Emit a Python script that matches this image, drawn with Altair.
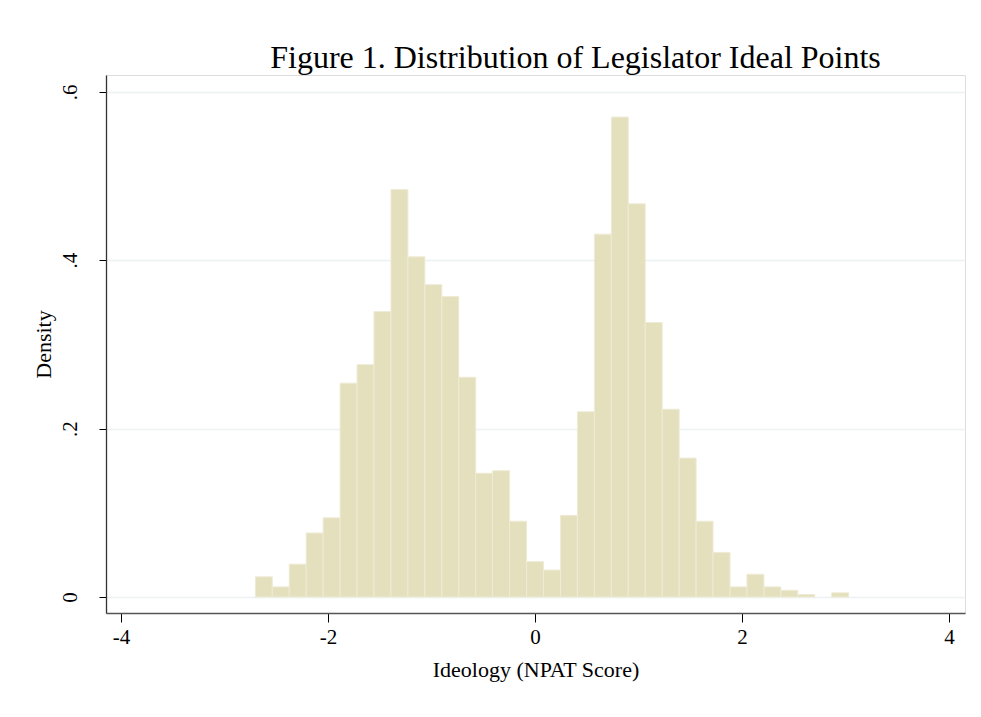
import altair as alt
import pandas as pd

# Histogram of legislator ideal points
bin_start = -2.702
bin_width = 0.1638
density = [0.024, 0.012, 0.039, 0.076, 0.094, 0.254, 0.276, 0.339, 0.484, 0.404,
           0.371, 0.357, 0.261, 0.147, 0.150, 0.090, 0.042, 0.032, 0.097, 0.220,
           0.431, 0.570, 0.467, 0.326, 0.223, 0.165, 0.090, 0.053, 0.012, 0.027,
           0.012, 0.008, 0.003, 0.000, 0.005]
x_ticks = [-4, -2, 0, 2, 4]
y_ticks = [0, 0.2, 0.4, 0.6]

lo = [round(bin_start + i * bin_width, 4) for i in range(len(density))]
hi = [round(v + bin_width, 4) for v in lo]
df = pd.DataFrame({"lo": lo, "hi": hi, "density": density})
df = df[df["density"] > 0]

xscale = alt.Scale(domain=[-4.145, 4.155], nice=False, zero=False)
yscale = alt.Scale(domain=[-0.019, 0.620], nice=False, zero=False)

bars = alt.Chart(df).mark_rect(
    fill="#e4dfbc", stroke="#eeebd6", strokeWidth=1
).encode(
    x=alt.X("lo:Q", scale=xscale, title="Ideology (NPAT Score)",
            axis=alt.Axis(values=x_ticks, labelExpr="'' + datum.value",
                          grid=False, tickSize=9, tickColor="#000000",
                          domainColor="#555555", domainWidth=1.3,
                          labelFont="Liberation Serif", labelFontSize=21,
                          labelColor="#000000", labelPadding=4,
                          titleFont="Liberation Serif", titleFontSize=22,
                          titleFontWeight="normal", titleColor="#000000",
                          titlePadding=12)),
    x2="hi:Q",
    y=alt.Y("density:Q", scale=yscale, title="Density",
            axis=alt.Axis(values=y_ticks,
                          labelExpr="datum.value == 0 ? '0' : '.' + round(datum.value * 10)",
                          grid=True, gridColor="#eaf2f3", gridWidth=1.5,
                          tickSize=7, tickColor="#000000",
                          domainColor="#333333", domainWidth=1.3,
                          labelAngle=270, labelAlign="center", labelBaseline="bottom",
                          labelFont="Liberation Serif", labelFontSize=21,
                          labelColor="#000000", labelPadding=19,
                          titleFont="Liberation Serif", titleFontSize=22,
                          titleFontWeight="normal", titleColor="#000000",
                          titlePadding=4)),
    y2=alt.datum(0),
)

chart = bars.properties(
    width=859,
    height=538,
    autosize=alt.AutoSizeParams(type="none"),
    padding={"left": 98, "top": 67, "right": 8, "bottom": 90},
    title=alt.TitleParams(
        "Figure 1. Distribution of Legislator Ideal Points",
        font="Liberation Serif", fontSize=32, fontWeight="normal",
        color="#000000", anchor="middle", frame="group", dx=40, dy=32,
        baseline="alphabetic", offset=7,
    ),
).configure_view(stroke=None).configure(background="#ffffff")

chart.save("out.html", embed_options={"renderer": "svg", "actions": False})
